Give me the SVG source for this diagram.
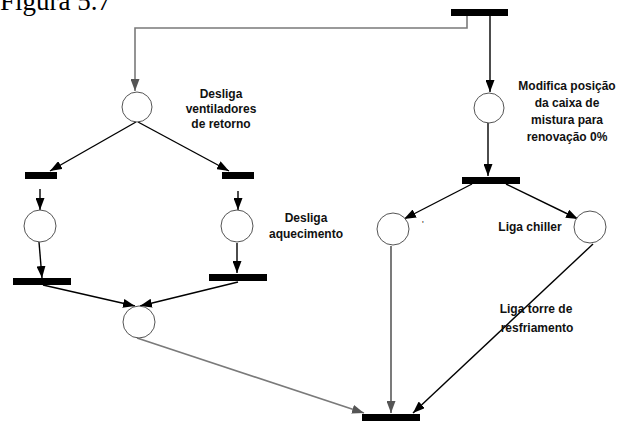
<svg xmlns="http://www.w3.org/2000/svg" width="628" height="421" viewBox="0 0 628 421">
  <style>
    .bar { fill: #000; }
    .place { fill: #fff; stroke: #555; stroke-width: 1; }
    .lbl { font-family: "Liberation Sans", Arial, sans-serif; font-weight: bold; font-size: 12px; fill: #111; text-anchor: middle; }
    .arc { fill: none; stroke: #000; stroke-width: 1.4; }
    .arc-grey { fill: none; stroke: #7a7a7a; stroke-width: 1.6; }
    .arc-dark { fill: none; stroke: #333; stroke-width: 1.3; }
  </style>
  <defs>
    <marker id="ah" viewBox="0 0 12 9" refX="12" refY="4.5" markerWidth="12" markerHeight="9" markerUnits="userSpaceOnUse" orient="auto">
      <path d="M0,0 L12,4.5 L0,9 z" fill="#000"/>
    </marker>
    <marker id="ahg" viewBox="0 0 12 9" refX="12" refY="4.5" markerWidth="12" markerHeight="9" markerUnits="userSpaceOnUse" orient="auto">
      <path d="M0,0 L12,4.5 L0,9 z" fill="#555"/>
    </marker>
  </defs>

  <rect width="628" height="421" fill="#fff"/>

  <text x="0" y="10" font-family="'Liberation Serif', 'Times New Roman', serif" font-size="27" fill="#000">Figura 5.7</text>

  <!-- connectors (arcs of the net) -->
  <g id="connectors">
    <polyline class="arc-grey" points="467,16 467,28 135,28 135,91" marker-end="url(#ahg)"/>
    <line class="arc" x1="490" y1="16" x2="490" y2="92" marker-end="url(#ah)"/>
    <line class="arc" x1="136" y1="122" x2="50" y2="171" marker-end="url(#ah)"/>
    <line class="arc" x1="138" y1="122" x2="229" y2="171" marker-end="url(#ah)"/>
    <line class="arc" x1="40" y1="189" x2="40" y2="210" marker-end="url(#ah)"/>
    <line class="arc" x1="238" y1="191" x2="238" y2="210" marker-end="url(#ah)"/>
    <line class="arc" x1="39" y1="242" x2="42" y2="278" marker-end="url(#ah)"/>
    <line class="arc" x1="237" y1="243" x2="237" y2="273" marker-end="url(#ah)"/>
    <line class="arc" x1="43" y1="285" x2="135" y2="306" marker-end="url(#ah)"/>
    <line class="arc" x1="238" y1="282" x2="140" y2="306" marker-end="url(#ah)"/>
    <line class="arc-grey" x1="137" y1="338" x2="364" y2="413" marker-end="url(#ahg)"/>
    <line class="arc" x1="488" y1="123" x2="488" y2="176" marker-end="url(#ah)"/>
    <line class="arc" x1="472" y1="184" x2="404" y2="219" marker-end="url(#ah)"/>
    <line class="arc" x1="506" y1="184" x2="578" y2="219" marker-end="url(#ah)"/>
    <line class="arc-dark" x1="391" y1="246" x2="391" y2="413" marker-end="url(#ahg)"/>
    <line class="arc" x1="593" y1="244" x2="413" y2="413" marker-end="url(#ah)"/>
  </g>

  <!-- transitions -->
  <g id="t-top"><rect class="bar" x="451" y="9" width="57" height="7"/></g>
  <g id="t-left-a"><rect class="bar" x="25" y="172" width="32" height="7"/></g>
  <g id="t-left-b"><rect class="bar" x="222" y="172" width="32" height="7"/></g>
  <g id="t-left-c"><rect class="bar" x="13" y="278" width="58" height="7"/></g>
  <g id="t-left-d"><rect class="bar" x="209" y="274" width="58" height="7"/></g>
  <g id="t-right"><rect class="bar" x="462" y="177" width="58" height="7"/></g>
  <g id="t-bottom"><rect class="bar" x="362" y="414" width="58" height="7"/></g>

  <!-- places -->
  <g id="p-ventiladores">
    <circle class="place" cx="137" cy="107" r="15"/>
    <text class="lbl" x="221" y="98">Desliga</text>
    <text class="lbl" x="221" y="113">ventiladores</text>
    <text class="lbl" x="221" y="128">de retorno</text>
  </g>
  <g id="p-left-a"><circle class="place" cx="40" cy="226" r="16"/></g>
  <g id="p-aquecimento">
    <circle class="place" cx="237" cy="226" r="16"/>
    <text class="lbl" x="306" y="222">Desliga</text>
    <text class="lbl" x="306" y="238">aquecimento</text>
  </g>
  <g id="p-join"><circle class="place" cx="139" cy="322" r="16"/></g>
  <g id="p-caixa">
    <circle class="place" cx="489" cy="108" r="15"/>
    <text class="lbl" x="567" y="90">Modifica posição</text>
    <text class="lbl" x="567" y="107">da caixa de</text>
    <text class="lbl" x="567" y="124">mistura para</text>
    <text class="lbl" x="567" y="141">renovação 0%</text>
  </g>
  <g id="p-right-a">
    <circle class="place" cx="393" cy="229" r="16"/>
    <text x="422" y="227" font-family="'Liberation Sans', Arial, sans-serif" font-size="9" fill="#222">'</text>
  </g>
  <g id="p-chiller">
    <circle class="place" cx="590" cy="227" r="16"/>
    <text class="lbl" x="530" y="231">Liga chiller</text>
  </g>
  <g id="lbl-torre">
    <text class="lbl" x="536" y="313">Liga torre de</text>
    <text class="lbl" x="537" y="332">resfriamento</text>
  </g>
</svg>
